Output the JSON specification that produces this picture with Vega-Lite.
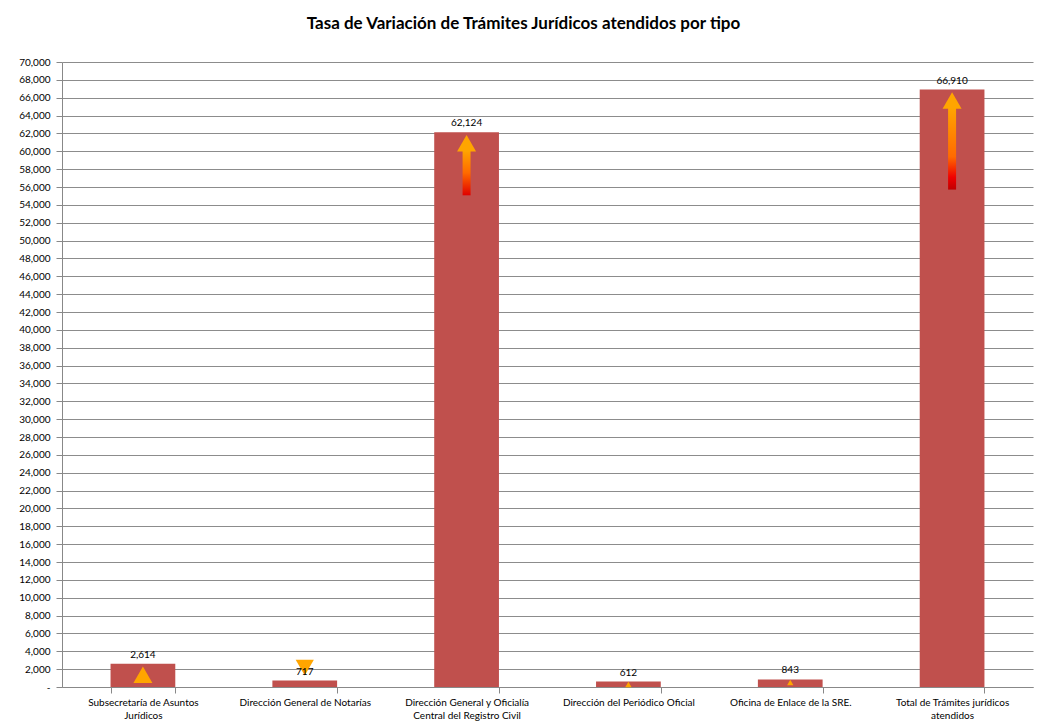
{
  "$schema": "https://vega.github.io/schema/vega-lite/v6.json",
  "width": 971,
  "height": 625,
  "autosize": {"type": "none"},
  "padding": {"left": 62, "top": 62, "right": 4, "bottom": 40},
  "background": "white",
  "title": {
    "text": "Tasa de Variación de Trámites Jurídicos atendidos por tipo",
    "font": "Lato",
    "fontSize": 17,
    "fontWeight": "bold",
    "color": "#000000",
    "anchor": "middle",
    "frame": "group",
    "dx": -24,
    "offset": 24
  },
  "data": {
    "values": [
      {"tipo": "Subsecretaría de Asuntos|Jurídicos", "value": 2614, "trend": "up"},
      {"tipo": "Dirección General de Notarías", "value": 717, "trend": "down"},
      {"tipo": "Dirección General y Oficialía|Central del Registro Civil", "value": 62124, "trend": "up"},
      {"tipo": "Dirección del Periódico Oficial", "value": 612, "trend": "up"},
      {"tipo": "Oficina de Enlace de la SRE.", "value": 843, "trend": "up"},
      {"tipo": "Total de Trámites jurídicos|atendidos", "value": 66910, "trend": "up"}
    ]
  },
  "encoding": {
    "x": {
      "field": "tipo",
      "type": "nominal",
      "sort": null,
      "scale": {"paddingInner": 0.6, "paddingOuter": 0.3},
      "axis": {
        "title": null,
        "labelAngle": 0,
        "labelExpr": "split(datum.label, '|')",
        "labelFont": "Lato",
        "labelFontSize": 10,
        "labelColor": "#000000",
        "labelPadding": 4,
        "labelLineHeight": 13,
        "labelOverlap": false,
        "tickBand": "extent",
        "tickSize": 6,
        "tickColor": "#888888",
        "domainColor": "#888888",
        "grid": false
      }
    },
    "y": {
      "field": "value",
      "type": "quantitative",
      "scale": {"domain": [0, 70000], "nice": false},
      "axis": {
        "title": null,
        "values": [0,2000,4000,6000,8000,10000,12000,14000,16000,18000,20000,22000,24000,26000,28000,30000,32000,34000,36000,38000,40000,42000,44000,46000,48000,50000,52000,54000,56000,58000,60000,62000,64000,66000,68000,70000],
        "labelExpr": "datum.value === 0 ? '-' : format(datum.value, ',')",
        "labelOverlap": false,
        "labelFont": "Lato",
        "labelFontSize": 10,
        "labelColor": "#000000",
        "labelPadding": 6,
        "tickSize": 6,
        "tickColor": "#888888",
        "domainColor": "#888888",
        "grid": true,
        "gridColor": "#8C8C8C",
        "gridWidth": 1
      }
    }
  },
  "layer": [
    {
      "mark": {"type": "bar", "color": "#C0504D"}
    },
    {
      "transform": [{"filter": "datum.value > 10000 && datum.value < 65000"}],
      "mark": {
        "type": "bar",
        "width": 8,
        "y2Offset": 63,
        "yOffset": 18,
        "color": {
          "gradient": "linear",
          "x1": 0, "y1": 0, "x2": 0, "y2": 1,
          "stops": [
            {"offset": 0, "color": "#FFA500"},
            {"offset": 0.5, "color": "#FF6A00"},
            {"offset": 1, "color": "#E00000"}
          ]
        }
      },
      "encoding": {
        "y2": {"field": "value"}
      }
    },
    {
      "transform": [{"filter": "datum.value > 65000"}],
      "mark": {
        "type": "bar",
        "width": 8,
        "y2Offset": 100,
        "yOffset": 18,
        "color": {
          "gradient": "linear",
          "x1": 0, "y1": 0, "x2": 0, "y2": 1,
          "stops": [
            {"offset": 0, "color": "#FFA500"},
            {"offset": 0.6, "color": "#FF6A00"},
            {"offset": 0.85, "color": "#F00000"},
            {"offset": 1, "color": "#C00000"}
          ]
        }
      },
      "encoding": {
        "y2": {"field": "value"}
      }
    },
    {
      "transform": [{"filter": "datum.trend === 'up' && datum.value > 1000"}],
      "mark": {"type": "point", "filled": true, "opacity": 1, "color": "#FFA500", "shape": "triangle-up", "size": 360, "yOffset": 11}
    },
    {
      "transform": [{"filter": "datum.trend === 'up' && datum.value < 1000"}],
      "mark": {"type": "point", "filled": true, "opacity": 1, "color": "#FFA500", "shape": "triangle-up", "size": 40, "yOffset": 3}
    },
    {
      "transform": [{"filter": "datum.trend === 'down'"}],
      "mark": {"type": "point", "filled": true, "opacity": 1, "color": "#FFA500", "shape": "triangle-down", "size": 330, "yOffset": -13}
    },
    {
      "mark": {"type": "text", "dy": -9, "font": "Lato", "fontSize": 10, "color": "#000000"},
      "encoding": {
        "text": {"field": "value", "type": "quantitative", "format": ","}
      }
    }
  ],
  "config": {
    "view": {"stroke": null}
  }
}
